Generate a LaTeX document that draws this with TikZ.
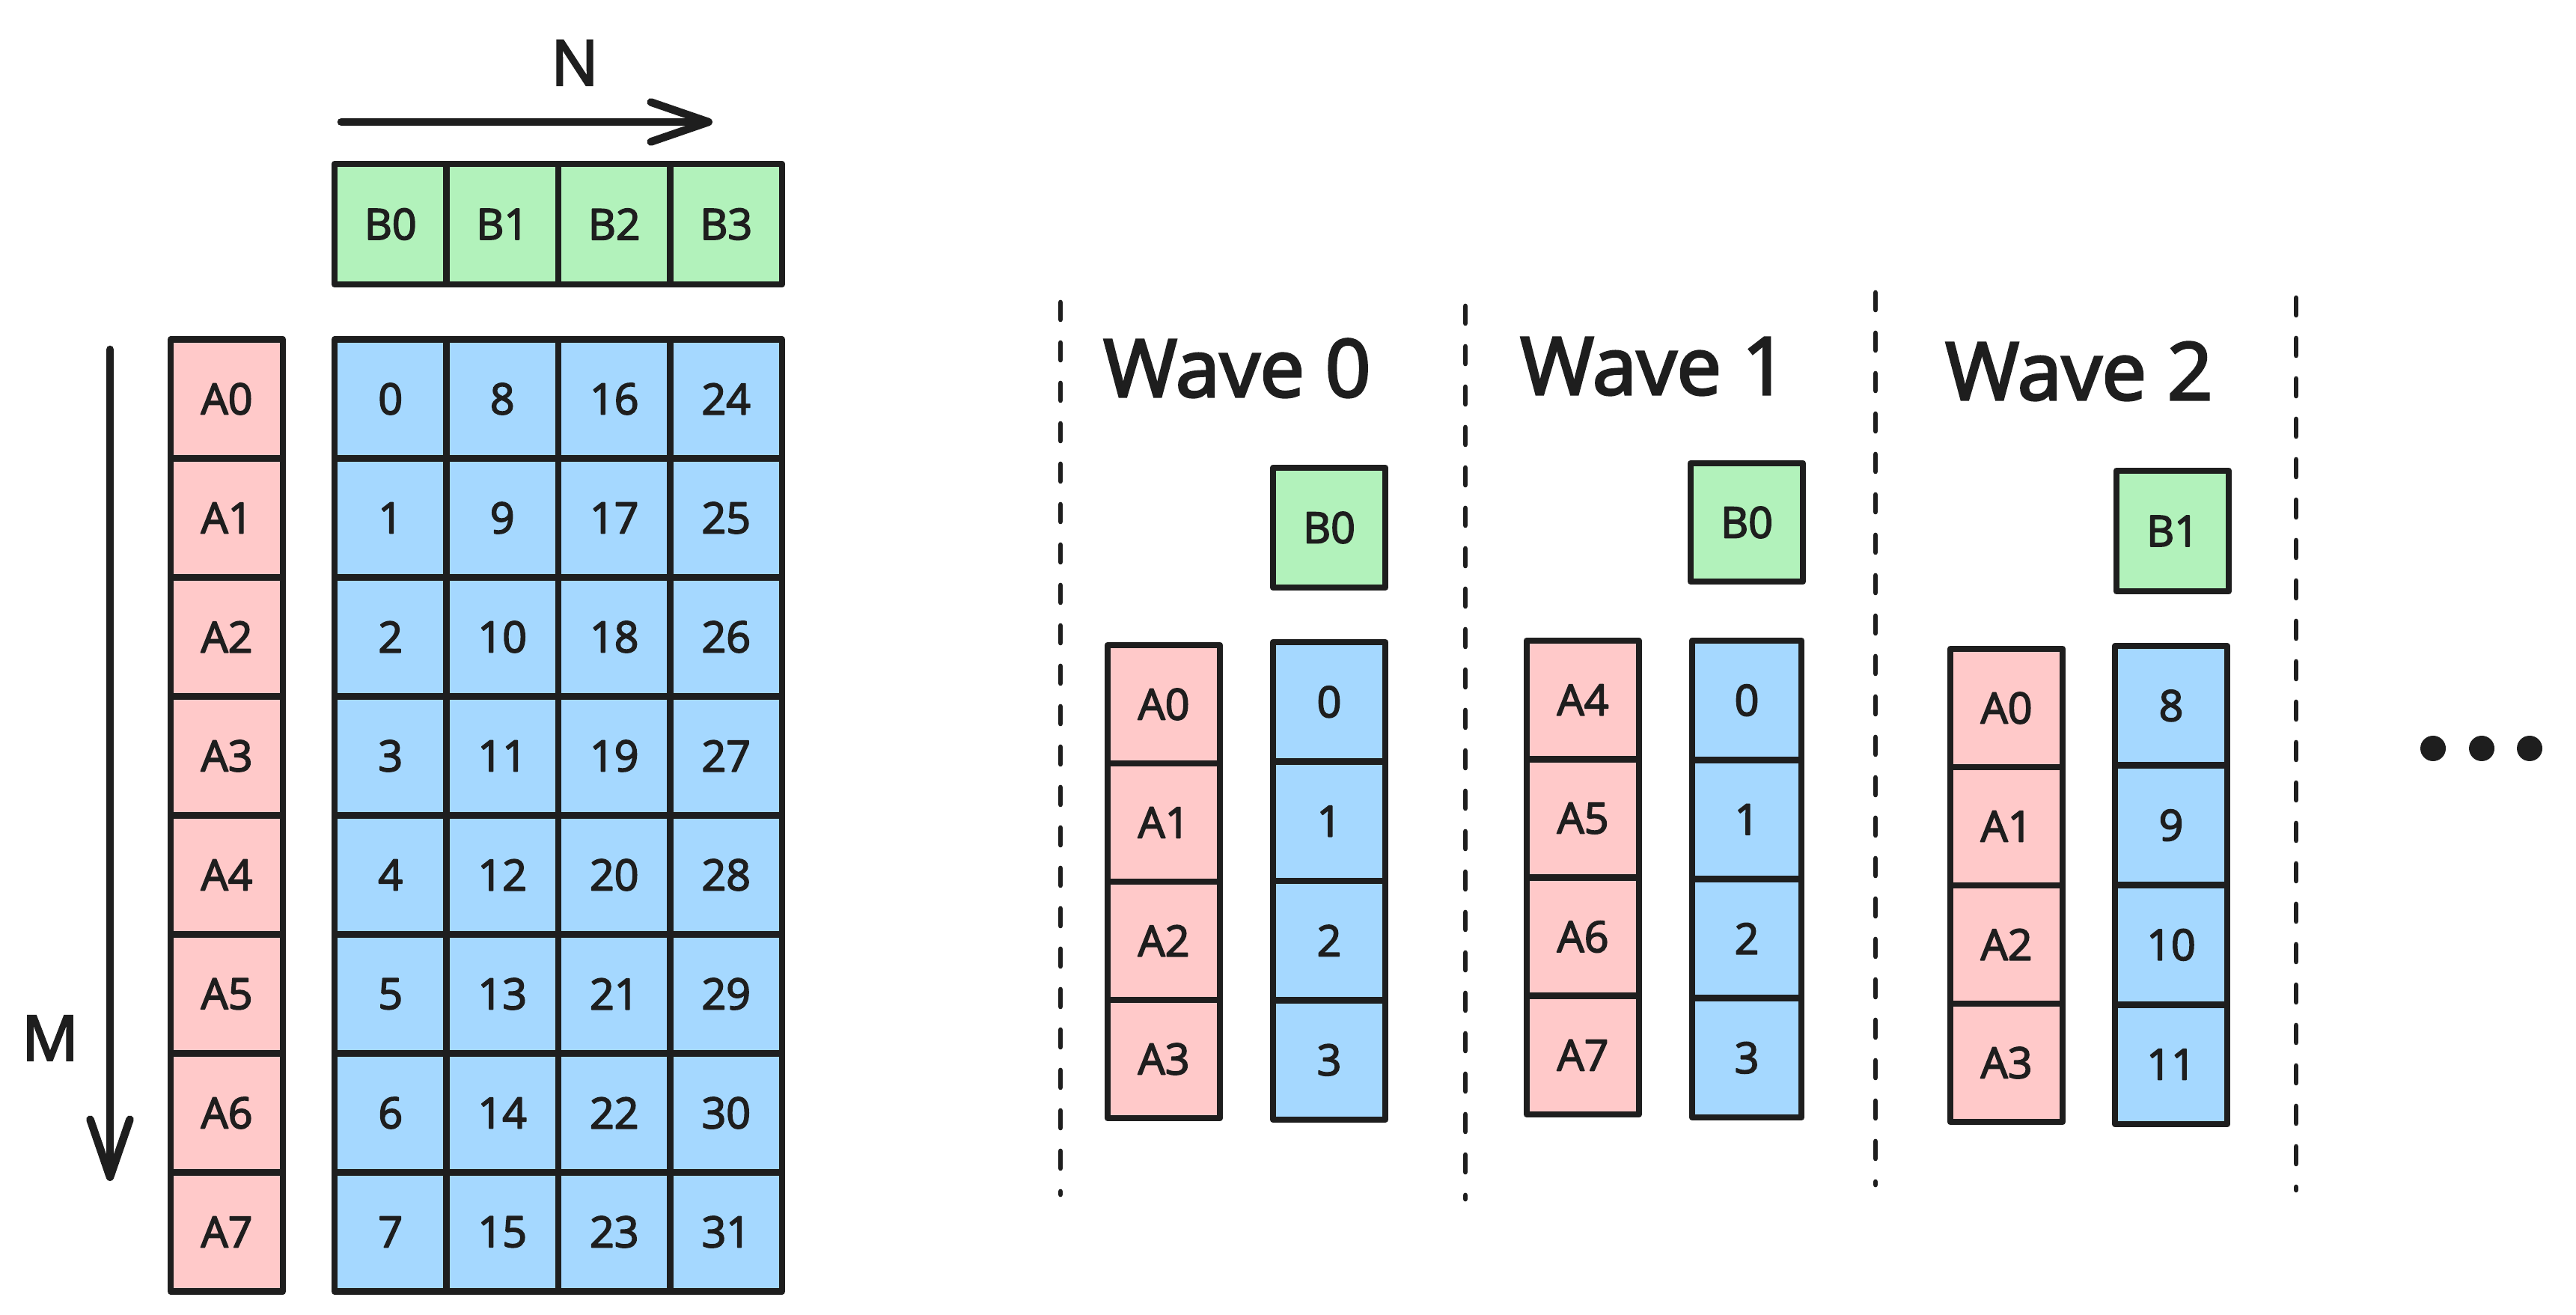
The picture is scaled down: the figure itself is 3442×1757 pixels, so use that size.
\documentclass[tikz,border=0pt]{standalone}
\usepackage{fontspec}
\setmainfont{Open Sans}[FakeBold=3]
\newfontfamily\medfont{Open Sans}[FakeBold=3]
\usetikzlibrary{arrows.meta}
\definecolor{ink}{HTML}{1E1E1E}
\definecolor{cgreen}{HTML}{B2F2BB}
\definecolor{cpink}{HTML}{FFC9C9}
\definecolor{cblue}{HTML}{A5D8FF}
\begin{document}
\begin{tikzpicture}[x=0.1mm,y=-0.1mm,
  cellbase/.style={rectangle, draw=ink, line width=2.5pt, line join=round, inner sep=0pt, outer sep=0pt,
    minimum width=15mm, minimum height=15.9mm, text=ink, font=\medfont\fontsize{16.3pt}{19pt}\selectfont},
  bcell/.style={cellbase, fill=cgreen},
  acell/.style={cellbase, fill=cpink},
  ccell/.style={cellbase, fill=cblue},
  title/.style={text=ink, font=\medfont\fontsize{30.3pt}{36pt}\selectfont, anchor=base, inner sep=0pt},
  axislabel/.style={text=ink, font=\medfont\fontsize{23.9pt}{28pt}\selectfont, inner sep=0pt},
  axis/.style={draw=ink, line width=3pt, line cap=round, -{Straight Barb[length=7.7mm,width=5.3mm,round]}},
  sep/.style={draw=ink, line width=1.9pt, line cap=round, dash pattern=on 2.3mm off 3.1mm},
  dot/.style={circle, fill=ink, minimum size=3.4mm, inner sep=0pt}
]
\fill[white] (0,0) rectangle (3442,1757);
\useasboundingbox (0,0) rectangle (3442,1757);

% ---------- axes ----------
\coordinate (nstart) at (456,163);
\coordinate (nend) at (952,163);
\draw[axis] (nstart) -- (nend);
\node[axislabel] (nlab) at (768,84) {N};

\coordinate (mstart) at (147,467);
\coordinate (mend) at (147,1578);
\draw[axis] (mstart) -- (mend);
\node[axislabel] (mlab) at (67,1387) {M};

% ---------- B row ----------
\foreach \c in {0,...,3} {
  \node[bcell, minimum width=14.95mm, minimum height=16.1mm] (b\c) at ({447+149.5*(\c+0.5)}, 299.5) {B\c};
}

% ---------- A column ----------
\foreach \r in {0,...,7} {
  \node[acell, minimum width=15mm] (a\r) at (303, {453.5+159*(\r+0.5)}) {A\r};
}

% ---------- C grid ----------
\foreach \c in {0,...,3} {
  \foreach \r in {0,...,7} {
    \pgfmathtruncatemacro{\n}{\c*8+\r}
    \node[ccell, minimum width=14.95mm] (c\n) at ({447+149.5*(\c+0.5)}, {453.5+159*(\r+0.5)}) {\n};
  }
}

% ---------- separators ----------
\coordinate (s0t) at (1417,404);  \coordinate (s0b) at (1417,1596);
\coordinate (s1t) at (1958,409);  \coordinate (s1b) at (1958,1602);
\coordinate (s2t) at (2506,391);  \coordinate (s2b) at (2506,1583);
\coordinate (s3t) at (3068,398);  \coordinate (s3b) at (3068,1590);
\draw[sep] (s0t) -- (s0b);
\draw[sep] (s1t) -- (s1b);
\draw[sep] (s2t) -- (s2b);
\draw[sep] (s3t) -- (s3b);

% ---------- Wave 0 ----------
\node[title] (t0) at (1653,530) {Wave 0};
\node[bcell, minimum height=16mm] (w0b) at (1776,705) {B0};
\foreach \i/\t in {0/A0,1/A1,2/A2,3/A3} {
  \node[acell, minimum height=15.8mm] (w0a\i) at (1555, {862+158*(\i+0.5)}) {\t};
}
\foreach \i/\t in {0/0,1/1,2/2,3/3} {
  \node[ccell, minimum height=15.95mm] (w0c\i) at (1776, {858+159.5*(\i+0.5)}) {\t};
}

% ---------- Wave 1 ----------
\node[title] (t1) at (2210,527) {Wave 1};
\node[bcell, minimum height=15.8mm] (w1b) at (2334,698) {B0};
\foreach \i/\t in {0/A4,1/A5,2/A6,3/A7} {
  \node[acell, minimum height=15.82mm] (w1a\i) at (2115, {856+158.25*(\i+0.5)}) {\t};
}
\foreach \i/\t in {0/0,1/1,2/2,3/3} {
  \node[ccell, minimum width=14.6mm, minimum height=15.92mm] (w1c\i) at (2334, {856+159.25*(\i+0.5)}) {\t};
}

% ---------- Wave 2 ----------
\node[title] (t2) at (2778,534) {Wave 2};
\node[bcell, minimum height=16.1mm] (w2b) at (2903,709.5) {B1};
\foreach \i/\t in {0/A0,1/A1,2/A2,3/A3} {
  \node[acell, minimum height=15.8mm] (w2a\i) at (2681, {867+158*(\i+0.5)}) {\t};
}
\foreach \i/\t in {0/8,1/9,2/10,3/11} {
  \node[ccell, minimum height=15.97mm] (w2c\i) at (2901, {863+159.75*(\i+0.5)}) {\t};
}

% ---------- ellipsis ----------
\node[dot] (dot1) at (3251,1000) {};
\node[dot] (dot2) at (3316,1000) {};
\node[dot] (dot3) at (3380,1000) {};
\end{tikzpicture}
\end{document}
